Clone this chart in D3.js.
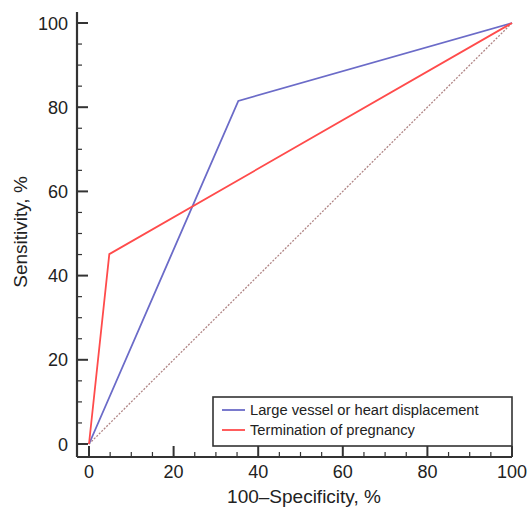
<!DOCTYPE html>
<html>
<head>
<meta charset="utf-8">
<script src="https://cdn.jsdelivr.net/npm/d3@7"></script>
<style>
  body { margin: 0; background: #fff; }
  text { font-family: "Liberation Sans", Arial, sans-serif; fill: #222; }
</style>
</head>
<body>
<div id="chart"></div>
<script>
// ROC points: [100-specificity, sensitivity]
var seriesNames = ["Large vessel or heart displacement", "Termination of pregnancy"];
var vesselPts = [[0, 0], [35.3, 81.5], [100, 100]];
var terminationPts = [[0, 0], [4.8, 45.1], [100, 100]];
var diagonalPts = [[0, 0], [100, 100]];
var tickValues = [0, 20, 40, 60, 80, 100];

var W = 527, H = 507;
var svg = d3.select("#chart").append("svg")
  .attr("width", W).attr("height", H);

var x = d3.scaleLinear().domain([0, 100]).range([89, 512]);
var y = d3.scaleLinear().domain([0, 100]).range([444, 23]);
var axisY = 457, axisX = 77;

var line = d3.line()
  .x(function (d) { return x(d[0]); })
  .y(function (d) { return y(d[1]); });

// axes
var ax = svg.append("g").attr("stroke", "#333").attr("fill", "none");
ax.append("line").attr("x1", axisX).attr("x2", x(100))
  .attr("y1", axisY).attr("y2", axisY).attr("stroke-width", 2.2);
ax.append("line").attr("x1", axisX).attr("x2", axisX)
  .attr("y1", axisY).attr("y2", 12).attr("stroke-width", 2.2);

var minor = d3.range(0, 101, 5);
minor.forEach(function (v) {
  var major = v % 20 === 0, len = major ? 11 : 5;
  ax.append("line").attr("x1", x(v)).attr("x2", x(v))
    .attr("y1", axisY).attr("y2", axisY - len)
    .attr("stroke-width", major ? 2 : 1.2);
  ax.append("line").attr("x1", axisX).attr("x2", axisX + len)
    .attr("y1", y(v)).attr("y2", y(v))
    .attr("stroke-width", major ? 2 : 1.2);
});

svg.selectAll(".xl").data(tickValues).enter().append("text")
  .attr("class", "xl")
  .attr("x", function (d) { return x(d); }).attr("y", 478)
  .attr("text-anchor", "middle").style("font-size", "18px")
  .text(function (d) { return d; });

svg.selectAll(".yl").data(tickValues).enter().append("text")
  .attr("class", "yl")
  .attr("x", 68).attr("y", function (d) { return y(d) + 6.5; })
  .attr("text-anchor", "end").style("font-size", "18px")
  .text(function (d) { return d; });

svg.append("text").attr("x", 304).attr("y", 503)
  .attr("text-anchor", "middle").style("font-size", "19px")
  .text("100\u2013Specificity, %");

svg.append("text")
  .attr("transform", "translate(27," + 232 + ") rotate(-90)")
  .attr("text-anchor", "middle").style("font-size", "19px")
  .text("Sensitivity, %");

// lines
svg.append("path").datum(diagonalPts).attr("d", line)
  .attr("fill", "none").attr("stroke", "#b08585")
  .attr("stroke-width", 1.3).attr("stroke-dasharray", "2,1.5");
svg.append("path").datum(vesselPts).attr("d", line)
  .attr("fill", "none").attr("stroke", "#6b6bc8").attr("stroke-width", 1.8);
svg.append("path").datum(terminationPts).attr("d", line)
  .attr("fill", "none").attr("stroke", "#ff4b4b").attr("stroke-width", 1.8);

// legend
var lg = svg.append("g");
lg.append("rect").attr("x", 213).attr("y", 397).attr("width", 299).attr("height", 49)
  .attr("fill", "#fff").attr("stroke", "#333").attr("stroke-width", 1.6);
var colors = ["#6b6bc8", "#ff4b4b"];
seriesNames.forEach(function (n, i) {
  var yy = 410 + i * 20;
  lg.append("line").attr("x1", 222).attr("x2", 245).attr("y1", yy).attr("y2", yy)
    .attr("stroke", colors[i]).attr("stroke-width", 1.8);
  lg.append("text").attr("x", 250).attr("y", yy + 5)
    .style("font-size", "14.7px").text(n);
});
</script>
</body>
</html>
